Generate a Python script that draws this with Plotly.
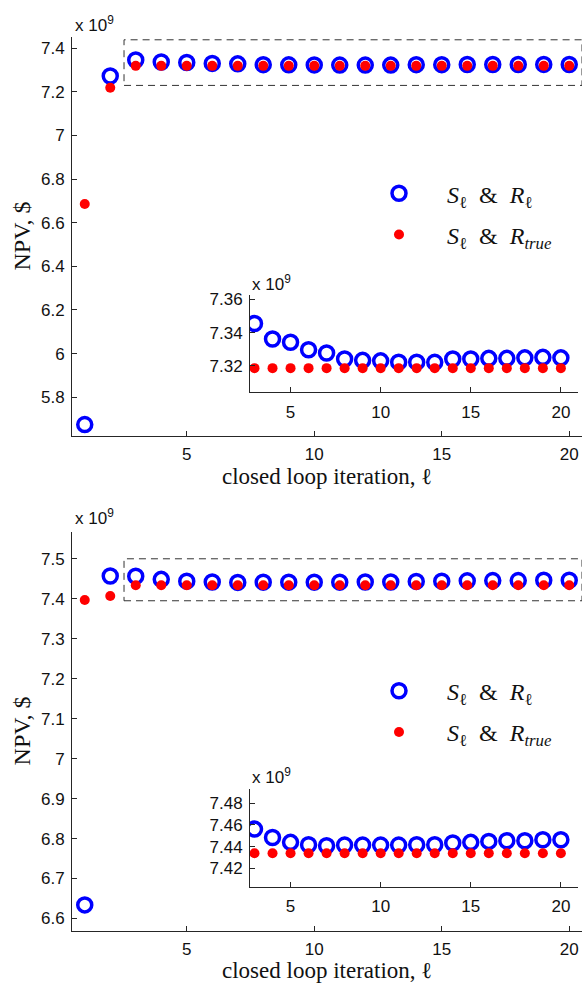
import plotly.graph_objects as go

W, H = 582, 985

# closed loop iterations
iters = list(range(1, 21))

# NPV (x 1e9 $), first case
top_est = [5.675, 7.272, 7.3455, 7.3362, 7.3342, 7.3297, 7.3277, 7.3241, 7.3233, 7.3230,
           7.3222, 7.3222, 7.3221, 7.3241, 7.3241, 7.3245, 7.3245, 7.3248, 7.3251, 7.3248]
top_true = [6.686, 7.218, 7.3186, 7.3186, 7.3186, 7.3186, 7.3186, 7.3186, 7.3186, 7.3186,
            7.3186, 7.3186, 7.3186, 7.3186, 7.3186, 7.3186, 7.3186, 7.3186, 7.3186, 7.3186]

# NPV (x 1e9 $), second case
bot_est = [6.634, 7.457, 7.4562, 7.4485, 7.4440, 7.4418, 7.4409, 7.4415, 7.4415, 7.4415,
           7.4415, 7.4418, 7.4418, 7.4434, 7.4440, 7.4449, 7.4455, 7.4455, 7.4464, 7.4464]
bot_true = [7.397, 7.407, 7.4339, 7.4339, 7.4339, 7.4339, 7.4339, 7.4339, 7.4339, 7.4339,
            7.4339, 7.4339, 7.4339, 7.4339, 7.4339, 7.4339, 7.4339, 7.4339, 7.4339, 7.4339]

# tick labels
x_ticks = [5, 10, 15, 20]
top_yticks = [5.8, 6.0, 6.2, 6.4, 6.6, 6.8, 7.0, 7.2, 7.4]
top_ylabels = ["5.8", "6", "6.2", "6.4", "6.6", "6.8", "7", "7.2", "7.4"]
top_inset_yticks = [7.32, 7.34, 7.36]
top_inset_ylabels = ["7.32", "7.34", "7.36"]
bot_yticks = [6.6, 6.7, 6.8, 6.9, 7.0, 7.1, 7.2, 7.3, 7.4, 7.5]
bot_ylabels = ["6.6", "6.7", "6.8", "6.9", "7", "7.1", "7.2", "7.3", "7.4", "7.5"]
bot_inset_yticks = [7.42, 7.44, 7.46, 7.48]
bot_inset_ylabels = ["7.42", "7.44", "7.46", "7.48"]

name_est = "<i>S</i><sub>ℓ</sub>  &amp;  <i>R</i><sub>ℓ</sub>"
name_true = "<i>S</i><sub>ℓ</sub>  &amp;  <i>R</i><sub><i>true</i></sub>"

BLUE = "#0000ff"
RED = "#ff0000"
AX = "#262626"
SANS = "Liberation Sans, Arial, sans-serif"
SERIF = "Liberation Serif, Times New Roman, serif"


def px_x(p):
    return p / W


def px_y(p):
    return 1 - p / H


fig = go.Figure()


def add_pair(est, true, xa, ya, first, legend, show):
    fig.add_trace(go.Scatter(
        x=first, y=est, mode="markers", xaxis=xa, yaxis=ya,
        name=name_est, showlegend=show, legend=legend, legendgroup=legend + "a",
        marker=dict(symbol="circle-open", size=14, color=BLUE, line=dict(width=3.5, color=BLUE)),
    ))
    fig.add_trace(go.Scatter(
        x=first, y=true, mode="markers", xaxis=xa, yaxis=ya,
        name=name_true, showlegend=show, legend=legend, legendgroup=legend + "b",
        marker=dict(symbol="circle", size=10, color=RED),
    ))


add_pair(top_est, top_true, "x", "y", iters, "legend", True)
add_pair(top_est[2:], top_true[2:], "x2", "y2", iters[2:], "legend", False)
add_pair(bot_est, bot_true, "x3", "y3", iters, "legend2", True)
add_pair(bot_est[2:], bot_true[2:], "x4", "y4", iters[2:], "legend2", False)

common = dict(showline=True, linecolor=AX, linewidth=1, ticks="inside", ticklen=5,
              tickcolor=AX, showgrid=False, zeroline=False,
              tickfont=dict(family=SANS, size=17, color="#111111"))

main_x = dict(range=[0.5, 20.5], tickvals=x_ticks, ticklabelstandoff=2, **common)
inset_x = dict(range=[2.75, 20.95], tickvals=x_ticks, ticklabelstandoff=4, **common)

legend_style = dict(xanchor="left", yanchor="top", bgcolor="rgba(0,0,0,0)",
                    itemwidth=86, tracegroupgap=7,
                    font=dict(family=SERIF, size=24, color="#111111"))

fig.update_layout(
    width=W, height=H,
    margin=dict(l=0, r=0, t=0, b=0),
    paper_bgcolor="white", plot_bgcolor="white",
    xaxis=dict(domain=[px_x(72), 1.0], anchor="y", **main_x),
    yaxis=dict(domain=[px_y(433.7), px_y(31.7)], anchor="x", range=[5.6204, 7.4529],
               tickvals=top_yticks, ticktext=top_ylabels, ticklabelstandoff=3, **common),
    xaxis2=dict(domain=[px_x(250), px_x(578)], anchor="y2", **inset_x),
    yaxis2=dict(domain=[px_y(389.3), px_y(291.7)], anchor="x2", range=[7.304, 7.3626],
                tickvals=top_inset_yticks, ticktext=top_inset_ylabels, ticklabelstandoff=3, **common),
    xaxis3=dict(domain=[px_x(72), 1.0], anchor="y3", **main_x),
    yaxis3=dict(domain=[px_y(931), px_y(529.3)], anchor="x3", range=[6.568, 7.568],
                tickvals=bot_yticks, ticktext=bot_ylabels, ticklabelstandoff=3, **common),
    xaxis4=dict(domain=[px_x(250), px_x(578)], anchor="y4", **inset_x),
    yaxis4=dict(domain=[px_y(886), px_y(788.3)], anchor="x4", range=[7.4034, 7.4928],
                tickvals=bot_inset_yticks, ticktext=bot_inset_ylabels, ticklabelstandoff=3, **common),
    legend=dict(x=px_x(351), y=px_y(167), **legend_style),
    legend2=dict(x=px_x(351), y=px_y(667), **legend_style),
)

# zoom-region boxes on the main axes
box_style = dict(type="rect", line=dict(color="#333333", width=1, dash="7px,5px"),
                 fillcolor="rgba(0,0,0,0)", layer="below")
fig.add_shape(xref="x", yref="y", x0=2.54, x1=20.5, y0=7.229, y1=7.438, **box_style)
fig.add_shape(xref="x3", yref="y3", x0=2.54, x1=20.5, y0=7.395, y1=7.5, **box_style)

# axis titles and exponent labels
ann = []
for cy in [(31.7 + 433.7) / 2, (529.3 + 931) / 2]:
    ann.append(dict(text="NPV, $", x=px_x(22), y=px_y(cy), textangle=-90,
                    font=dict(family=SERIF, size=24, color="#111111")))
for cy in [474, 970]:
    ann.append(dict(text="closed loop iteration, ℓ", x=px_x(327), y=px_y(cy),
                    font=dict(family=SERIF, size=23, color="#111111")))
for lx, cy in [(72.7, 19), (250, 279), (72.7, 515), (250, 775)]:
    ann.append(dict(text="x 10<sup>9</sup>", x=px_x(lx), y=px_y(cy), xanchor="left",
                    font=dict(family=SANS, size=17, color="#111111")))
for a in ann:
    a.update(xref="paper", yref="paper", showarrow=False,
             xanchor=a.get("xanchor", "center"), yanchor="middle")
fig.update_layout(annotations=ann)

fig.write_html("out.html")
